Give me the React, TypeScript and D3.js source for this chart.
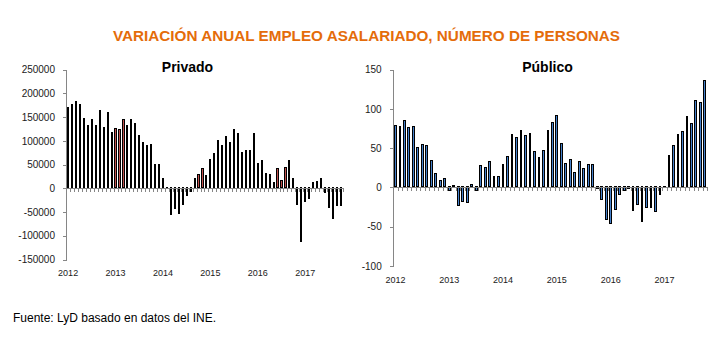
import React from "react";
import * as d3 from "d3";

const years = ["2012", "2013", "2014", "2015", "2016", "2017"];
const monthNames = ["ene", "feb", "mar", "abr", "may", "jun", "jul", "ago", "sep", "oct", "nov", "dic"];
const categories = years.flatMap((y) => monthNames.map((m) => `${m} ${y}`)).slice(0, 70);

// Variación anual empleo asalariado privado (personas)
const privado = [
  171000, 177000, 185000, 177000, 148000, 133000, 146000, 133000, 165000, 129000, 160000, 119000,
  127000, 125000, 146000, 133000, 146000, 137000, 112000, 98000, 92000, 94000, 52000, 52000,
  21000, 2000, -56000, -43000, -53000, -35000, -16000, -8000, 21000, 31000, 42000, 28000,
  61000, 74000, 101000, 92000, 111000, 97000, 126000, 117000, 76000, 80000, 80000, 117000,
  53000, 59000, 32000, 30000, 13000, 42000, 17000, 44000, 59000, 22000, -36000, -112000,
  -28000, -22000, 13000, 15000, 22000, -9000, -41000, -64000, -37000, -37000,
];

// Variación anual empleo asalariado público (miles de personas)
const publico = [
  79.6, 78.3, 86, 77, 78, 51.5, 55, 54, 35, 18.3, 9.4, 12,
  -5, 3, -24, -18, -20, 4, -4, 28.5, 26, 33.6, 14.5, 14.5,
  30, 40, 68, 64, 73, 67, 69, 46, 38.7, 47.7, 73, 84,
  92, 57, 31.5, 36.6, 20, 34, 25, 30, 30, -2, -16, -41,
  -47, -29, -10, -5, -2, -30, -22.5, -44, -26, -26, -31, -10,
  2, 42, 53.6, 67.7, 71.5, 90.6, 81.7, 112, 108.5, 136.6,
];

const privadoTicks = [250000, 200000, 150000, 100000, 50000, 0, -50000, -100000, -150000];
const publicoTicks = [150, 100, 50, 0, -50, -100];

const FONT = "'Liberation Sans', Arial, sans-serif";
const AXIS = "#868686";

type PanelProps = {
  data: number[];
  ticks: number[];
  title: string;
  titleX: number;
  x0: number;
  step: number;
  barW: number;
  yDomain: [number, number];
  yRange: [number, number];
  fill: string;
  labelRight: number;
};

function Panel(p: PanelProps) {
  const x = d3
    .scaleBand<string>()
    .domain(categories)
    .range([p.x0, p.x0 + p.step * categories.length])
    .paddingInner(0)
    .paddingOuter(0);
  const y = d3.scaleLinear().domain(p.yDomain).range(p.yRange);
  const y0 = Math.round(y(0));
  const axisX = Math.floor(p.x0) + 0.5;
  const yTop = y(p.yDomain[1]);
  const yBot = y(p.yDomain[0]);
  const off = (x.bandwidth() - p.barW) / 2;

  const bars = p.data.map((v, i) => {
    const bl = (x(categories[i]) as number) + off;
    const l = Math.round(bl);
    const r = Math.round(bl + p.barW);
    const yv = Math.round(y(v));
    let top: number, bot: number;
    if (v >= 0) {
      top = Math.min(yv, y0 - 1);
      bot = y0;
    } else {
      top = y0 - 1;
      bot = Math.max(yv, y0 + 1);
    }
    return (
      <g key={i}>
        <rect x={l} y={top} width={r - l} height={bot - top} fill="#000" />
        {r - l >= 3 && bot - top >= 3 ? (
          <rect x={l + 1} y={top + 1} width={r - l - 2} height={bot - top - 2} fill={p.fill} />
        ) : null}
      </g>
    );
  });

  const catTicks = d3.range(categories.length + 1).map((i) => Math.round(p.x0 + p.step * i) + 0.5);

  return (
    <g>
      <text x={p.titleX} y={72.3} textAnchor="middle" fontFamily={FONT} fontWeight="bold" fontSize={14} fill="#000">
        {p.title}
      </text>
      {bars}
      {/* y axis */}
      <line x1={axisX} x2={axisX} y1={Math.round(yTop)} y2={Math.round(yBot) + 1} stroke={AXIS} strokeWidth={1} />
      {p.ticks.map((t) => (
        <g key={t}>
          <line x1={axisX - 4} x2={axisX} y1={Math.round(y(t)) + 0.5} y2={Math.round(y(t)) + 0.5} stroke={AXIS} />
          <text x={p.labelRight} y={y(t) + 3.6} textAnchor="end" fontFamily={FONT} fontSize={10} fill="#1a1a1a">
            {String(t)}
          </text>
        </g>
      ))}
      {/* x axis at zero */}
      <line x1={axisX} x2={catTicks[catTicks.length - 1]} y1={y0 + 0.5} y2={y0 + 0.5} stroke={AXIS} />
      {catTicks.map((cx, i) => (
        <line key={i} x1={cx} x2={cx} y1={y0 + 0.5} y2={y0 + 3.5} stroke={AXIS} />
      ))}
      {years.map((yr, k) => {
        const c = categories[k * 12];
        const cx = (x(c) as number) + x.bandwidth() / 2;
        return (
          <text key={yr} x={cx} y={yBot + 16.5} textAnchor="middle" fontFamily={FONT} fontSize={9} fill="#1a1a1a">
            {yr}
          </text>
        );
      })}
    </g>
  );
}

export default function App() {
  return (
    <div style={{ position: "absolute", left: 0, top: 0, width: 718, height: 338 }}>
      <svg width={718} height={338} style={{ display: "block", background: "#fff" }} shapeRendering="crispEdges">
        <rect x={0} y={0} width={718} height={338} fill="#fff" />
        <text
          x={366.5}
          y={41}
          textAnchor="middle"
          fontFamily={FONT}
          fontWeight="bold"
          fontSize={15.5}
          fill="#E46C0A"
          textLength={507}
          lengthAdjust="spacingAndGlyphs"
        >
          VARIACIÓN ANUAL EMPLEO ASALARIADO, NÚMERO DE PERSONAS
        </text>
        <Panel
          data={privado}
          ticks={privadoTicks}
          title="Privado"
          titleX={187.5}
          x0={66.16}
          step={3.9512}
          barW={2.12}
          yDomain={[-150000, 250000]}
          yRange={[259.6, 69.7]}
          fill="#C0504D"
          labelRight={55}
        />
        <Panel
          data={publico}
          ticks={publicoTicks}
          title="Público"
          titleX={547.5}
          x0={393.2}
          step={4.4842}
          barW={2.79}
          yDomain={[-100, 150]}
          yRange={[266, 69.7]}
          fill="#4581CC"
          labelRight={381.7}
        />
        <text x={13} y={322} fontFamily={FONT} fontSize={12} fill="#000">
          Fuente: LyD basado en datos del INE.
        </text>
      </svg>
    </div>
  );
}
